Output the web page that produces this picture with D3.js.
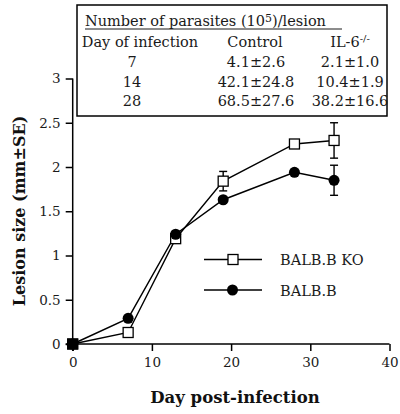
<!DOCTYPE html>
<html><head><meta charset="utf-8">
<script src="https://cdn.jsdelivr.net/npm/d3@7"></script>
<style>body{margin:0;background:#fff}svg{display:block}</style>
</head><body>
<script>
const days = [0, 7, 13, 19, 28, 33];
const koValues = [0, 0.13, 1.19, 1.84, 2.26, 2.30];
const koErr = [0, 0, 0, 0.11, 0, 0.20];
const balbValues = [0, 0.29, 1.24, 1.63, 1.94, 1.85];
const balbErr = [0, 0, 0, 0, 0, 0.17];
const xTicks = [0, 10, 20, 30, 40];
const yTicks = [0, 0.5, 1, 1.5, 2, 2.5, 3];
const seriesNames = ["BALB.B KO", "BALB.B"];
const tableTitleParts = ["Number of parasites (10", "5", ")/lesion"];
const tableHeaders = ["Day of infection", "Control", "IL-6"];
const tableDays = ["7", "14", "28"];
const tableControl = ["4.1±2.6", "42.1±24.8", "68.5±27.6"];
const tableIL6 = ["2.1±1.0", "10.4±1.9", "38.2±16.6"];

const W = 400, H = 414;
const serif = "'DejaVu Serif', serif";
const svg = d3.select("body").append("svg").attr("width", W).attr("height", H);
const x = d3.scaleLinear().domain([0, 40]).range([72.7, 389.5]);
const y = d3.scaleLinear().domain([0, 3]).range([344, 78.5]);

// axes
const xAxis = svg.append("g").attr("transform", `translate(0,${y(0)})`)
  .call(d3.axisBottom(x).tickValues(xTicks).tickSize(7).tickPadding(6).tickFormat(d3.format("d")));
const yAxis = svg.append("g").attr("transform", `translate(${x(0)},0)`)
  .call(d3.axisLeft(y).tickValues(yTicks).tickSize(7).tickPadding(5).tickFormat(d => d));
[xAxis, yAxis].forEach(g => {
  g.select(".domain").attr("stroke", "#000").attr("stroke-width", 1.5);
  g.selectAll(".tick line").attr("stroke", "#000").attr("stroke-width", 1.5);
  g.selectAll("text").attr("font-family", serif).attr("font-size", 13.5).attr("fill", "#1a1a1a");
});
xAxis.select(".domain").attr("d", `M${x(0) - 7},0H${x(40)}`);
yAxis.select(".domain").attr("d", `M0,${y(3)}V${y(0) + 7}`);

// axis titles
svg.append("text").attr("x", 235).attr("y", 403).attr("text-anchor", "middle")
  .attr("font-family", serif).attr("font-weight", "bold").attr("font-size", 16.5).attr("fill", "#111")
  .text("Day post-infection");
svg.append("text").attr("transform", "translate(25,211) rotate(-90)").attr("text-anchor", "middle")
  .attr("font-family", serif).attr("font-weight", "bold").attr("font-size", 16).attr("fill", "#111")
  .text("Lesion size (mm±SE)");

const line = d3.line().x(d => x(d[0])).y(d => y(d[1]));
const ko = days.map((d, i) => [d, koValues[i], koErr[i]]);
const balb = days.map((d, i) => [d, balbValues[i], balbErr[i]]);

svg.append("path").datum(balb).attr("d", line).attr("fill", "none").attr("stroke", "#000").attr("stroke-width", 1.4);
svg.append("path").datum(ko).attr("d", line).attr("fill", "none").attr("stroke", "#000").attr("stroke-width", 1.4);

function errBars(data) {
  const g = svg.append("g").attr("stroke", "#000").attr("stroke-width", 1.4);
  data.filter(d => d[2] > 0).forEach(d => {
    const cx = x(d[0]);
    g.append("line").attr("x1", cx).attr("x2", cx).attr("y1", y(d[1] + d[2])).attr("y2", y(d[1] - d[2]));
    [d[1] + d[2], d[1] - d[2]].forEach(v => {
      g.append("line").attr("x1", cx - 4).attr("x2", cx + 4).attr("y1", y(v)).attr("y2", y(v));
    });
  });
}
errBars(ko);
errBars(balb);

svg.append("g").selectAll("rect").data(ko).join("rect")
  .attr("x", d => x(d[0]) - 5).attr("y", d => y(d[1]) - 5).attr("width", 10).attr("height", 10)
  .attr("fill", "#fff").attr("stroke", "#000").attr("stroke-width", 1.3);
svg.append("g").selectAll("circle").data(balb).join("circle")
  .attr("cx", d => x(d[0])).attr("cy", d => y(d[1])).attr("r", 5.5).attr("fill", "#000");
// origin marker appears solid
svg.append("rect").attr("x", x(0) - 5.5).attr("y", y(0) - 5.5).attr("width", 11).attr("height", 11).attr("fill", "#000");

// legend
const leg = svg.append("g");
[[259.5, "sq"], [290, "ci"]].forEach(([ly, t], i) => {
  leg.append("line").attr("x1", 204).attr("x2", 262).attr("y1", ly).attr("y2", ly).attr("stroke", "#000").attr("stroke-width", 1.4);
  if (t === "sq") leg.append("rect").attr("x", 228).attr("y", ly - 5).attr("width", 10).attr("height", 10)
    .attr("fill", "#fff").attr("stroke", "#000").attr("stroke-width", 1.3);
  else leg.append("circle").attr("cx", 232.5).attr("cy", ly).attr("r", 5.5).attr("fill", "#000");
  leg.append("text").attr("x", 280).attr("y", ly + 5.5).attr("font-family", serif).attr("font-size", 14.5)
    .attr("fill", "#1a1a1a").text(seriesNames[i]);
});

// table box
const tb = svg.append("g");
tb.append("rect").attr("x", 77).attr("y", 5).attr("width", 310).attr("height", 111)
  .attr("fill", "#fff").attr("stroke", "#000").attr("stroke-width", 1.5);
const tf = (sel) => sel.attr("font-family", serif).attr("font-size", 14.5).attr("fill", "#1a1a1a");
const title = tf(tb.append("text").attr("x", 85).attr("y", 26));
title.append("tspan").text(tableTitleParts[0]);
title.append("tspan").attr("dy", -4).attr("font-size", 11).text(tableTitleParts[1]);
title.append("tspan").attr("dy", 4).text(tableTitleParts[2]);
tb.append("line").attr("x1", 85).attr("x2", 342).attr("y1", 29).attr("y2", 29).attr("stroke", "#1a1a1a").attr("stroke-width", 1);
tf(tb.append("text").attr("x", 140).attr("y", 47).attr("text-anchor", "middle")).text(tableHeaders[0]);
tf(tb.append("text").attr("x", 255).attr("y", 47).attr("text-anchor", "middle")).text(tableHeaders[1]);
const il = tf(tb.append("text").attr("x", 350).attr("y", 47).attr("text-anchor", "middle"));
il.append("tspan").text(tableHeaders[2]);
il.append("tspan").attr("dy", -5).attr("font-size", 10).text("-/-");
const rowY = [67, 86.5, 106];
tableDays.forEach((d, i) => {
  tf(tb.append("text").attr("x", 132).attr("y", rowY[i]).attr("text-anchor", "middle")).text(d);
  tf(tb.append("text").attr("x", 256).attr("y", rowY[i]).attr("text-anchor", "middle")).text(tableControl[i]);
  tf(tb.append("text").attr("x", 350).attr("y", rowY[i]).attr("text-anchor", "middle")).text(tableIL6[i]);
});
</script>
</body></html>
